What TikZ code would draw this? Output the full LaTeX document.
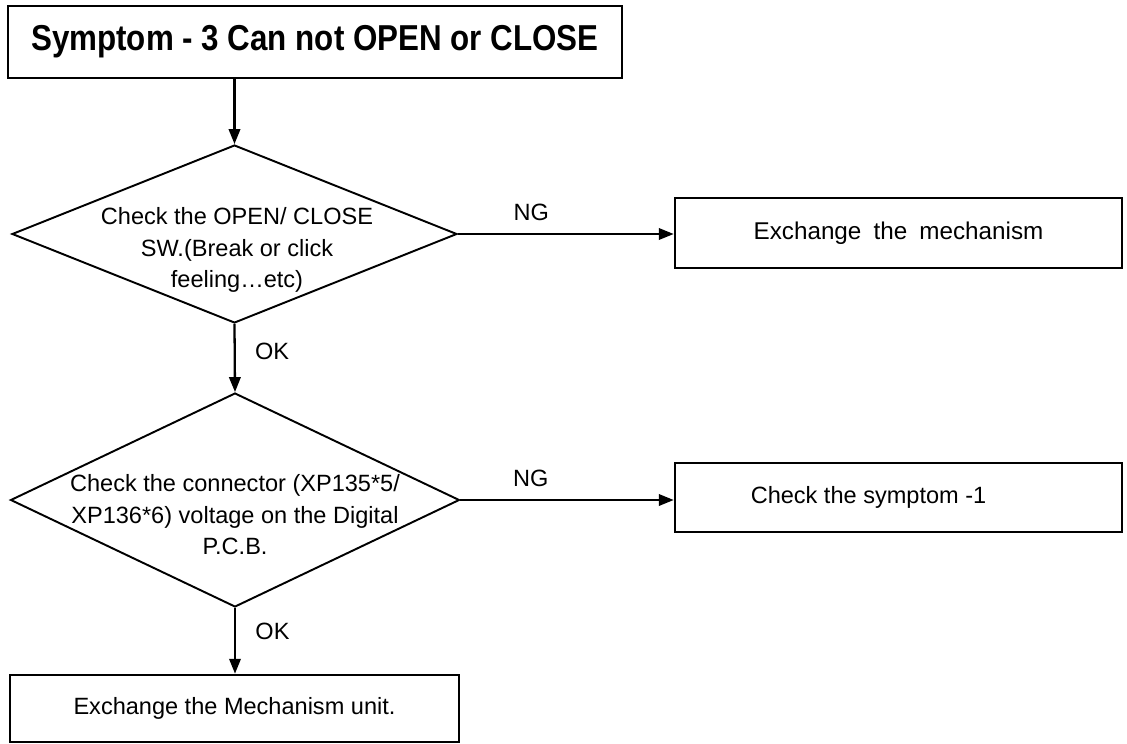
\documentclass[tikz,border=0pt]{standalone}
\usepackage{fontspec}
\setmainfont{Liberation Sans}
\newfontfamily\titlefont[FakeStretch=0.87]{Liberation Sans}
\newfontfamily\widefont[WordSpace=1.8]{Liberation Sans}
\usetikzlibrary{shapes,arrows}
\usetikzlibrary{arrows.meta}
\usetikzlibrary{shapes.geometric}

\begin{document}
\begin{tikzpicture}[x=0.02cm, y=-0.02cm, font=\fontsize{13.4}{17.9}\selectfont]
    \tikzstyle{box} = [rectangle, draw, line width=1.5pt, text centered, inner sep=0pt]
    \tikzstyle{decision} = [diamond, draw, line width=1.1pt, inner sep=0pt]
    \tikzstyle{line} = [draw, line width=1.3pt, -{Triangle[length=8.5pt, width=6.5pt]}]
    \tikzstyle{tag} = [inner sep=1pt]

    \useasboundingbox (0,0) rectangle (1127,744);

    \node [box, minimum width=12.28cm, minimum height=1.44cm, font=\titlefont\fontsize{20.5}{22}\bfseries] (title) at (315,42) {Symptom - 3 Can not OPEN or CLOSE};
    \node [decision, minimum width=8.9cm, minimum height=3.56cm] (check1) at (234.5,234) {};
    \node [align=center] (check1txt) at (237,250) {Check the OPEN/ CLOSE\\SW.(Break or click\\feeling…etc)};
    \node [box, minimum width=8.94cm, minimum height=1.4cm, font=\widefont\fontsize{13.8}{17.9}\selectfont] (mech) at (898.5,233) {Exchange the mechanism};
    \node [decision, minimum width=8.98cm, minimum height=4.28cm] (check2) at (235,500) {};
    \node [align=center] (check2txt) at (235,515) {Check the connector (XP135*5/\\XP136*6) voltage on the Digital\\P.C.B.};
    \node [box, minimum width=8.94cm, minimum height=1.38cm, label={[xshift=-0.6cm]center:Check the symptom -1}] (sym1) at (898.5,497.5) {};
    \node [box, minimum width=8.98cm, minimum height=1.34cm] (unit) at (234.5,708.5) {Exchange the Mechanism unit.};

    % connectors
    \path [line] (check1.north |- title.south) -- (check1.north);
    \path [line] (check1.east) -- node [tag, above, pos=0.34, yshift=6pt] {NG} (check1.east -| mech.west);
    \path [line] (check1.south) -- node [tag, right, pos=0.4, xshift=10pt] {OK} (check2.north);
    \path [line] (check2.east) -- node [tag, above, pos=0.33, yshift=6pt] {NG} (check2.east -| sym1.west);
    \path [line] (check2.south) -- node [tag, right, pos=0.36, xshift=10pt] {OK} (check2.south |- unit.north);
\end{tikzpicture}
\end{document}
